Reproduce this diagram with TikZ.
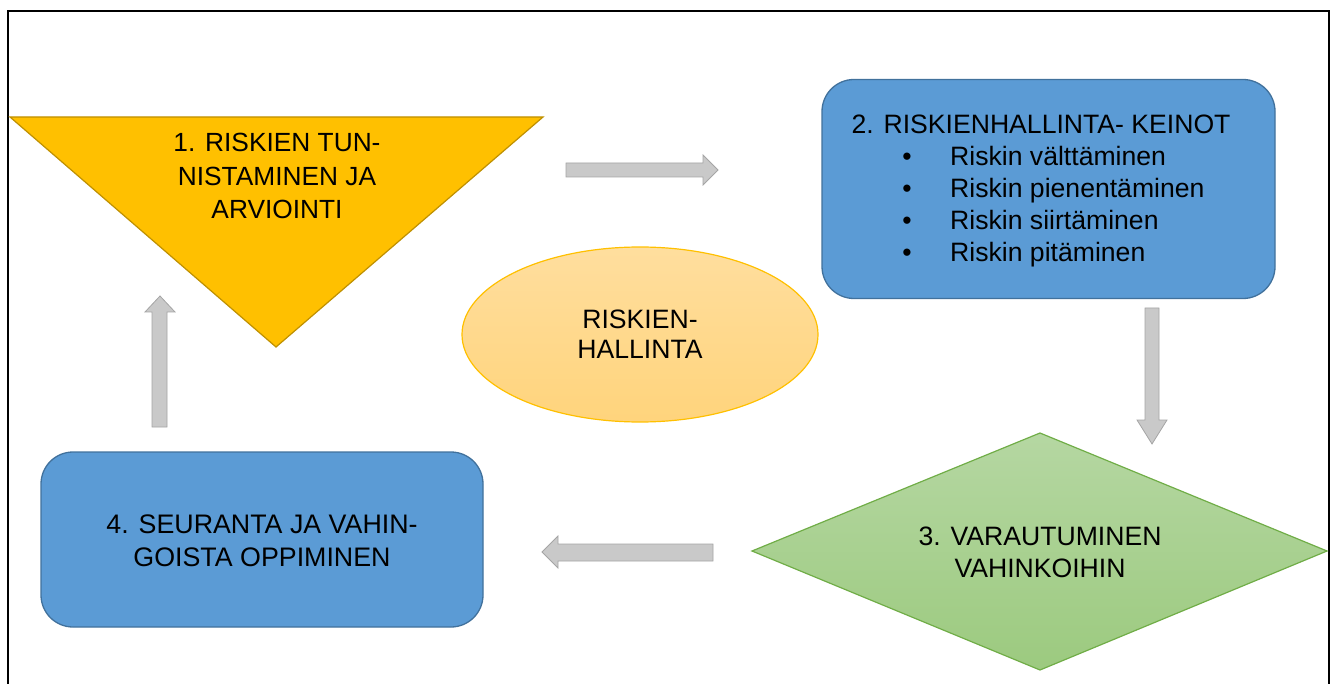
\documentclass[tikz,border=0pt]{standalone}
\usepackage{fontspec}
\setmainfont{Liberation Sans}
\usetikzlibrary{shapes.geometric}
\definecolor{gold}{HTML}{FFC000}
\definecolor{golddark}{HTML}{BF9000}
\definecolor{boxblue}{HTML}{5B9BD5}
\definecolor{boxblueline}{HTML}{41719C}
\definecolor{greentop}{HTML}{B5D7A2}
\definecolor{greenbot}{HTML}{9CCA7F}
\definecolor{greenline}{HTML}{70AD47}
\definecolor{ovaltop}{HTML}{FFDE9E}
\definecolor{ovalbot}{HTML}{FFD47C}
\definecolor{arrowfill}{HTML}{C9C9C9}
\definecolor{arrowline}{HTML}{A5A5A5}
\tikzset{
  label/.style={inner sep=0pt, font=\fontsize{26.6}{32}\selectfont, text=black},
  bluebox/.style={draw=boxblueline, fill=boxblue, line width=1.3pt, rounded corners=32pt, inner sep=0pt},
  blockarrow/.style={draw=arrowline, fill=arrowfill, line width=0.8pt, line join=miter},
  frame/.style={draw=black, line width=2pt},
}
\begin{document}
\begin{tikzpicture}[x=1pt,y=-1pt]
\useasboundingbox (0,0) rectangle (1335,684);

% outer frame (open at the bottom)
\draw[frame] (8,690) -- (8,11) -- (1329,11) -- (1329,690);

% step 1: inverted triangle
\coordinate (t1) at (10,117);
\coordinate (t2) at (543,117);
\coordinate (t3) at (276,347);
\draw[draw=golddark, fill=gold, line width=1.2pt, line join=miter] (t1) -- (t2) -- (t3) -- cycle;
\node[label, anchor=north, align=center, font=\fontsize{26.3}{33.5}\selectfont] (n1) at (277,133)
  {1. RISKIEN TUN-\\NISTAMINEN JA\\ARVIOINTI};

% step 2: rounded box with bullet list
\node[bluebox, minimum width=453pt, minimum height=219pt] (b2) at (1048.5,189) {};
\node[label, anchor=base] (b2t) at (1041,134) {2. RISKIENHALLINTA- KEINOT};
\foreach \txt [count=\i] in {Riskin välttäminen, Riskin pienentäminen, Riskin siirtäminen, Riskin pitäminen} {
  \node[label, anchor=base] (b2d\i) at (907,{134+32*\i}) {•};
  \node[label, anchor=base west] (b2i\i) at (950,{134+32*\i}) {\txt};
}

% step 3: diamond with vertical gradient
\coordinate (d1) at (1040,433);
\coordinate (d2) at (1327,551);
\coordinate (d3) at (1040,670);
\coordinate (d4) at (752,551);
\path[top color=greentop, bottom color=greenbot] (d1) -- (d2) -- (d3) -- (d4) -- cycle;
\draw[greenline, line width=1.2pt, line join=miter] (d1) -- (d2) -- (d3) -- (d4) -- cycle;
\node[label, anchor=north, align=center, font=\fontsize{26.6}{32}\selectfont] (n3) at (1040,527)
  {3. VARAUTUMINEN\\VAHINKOIHIN};

% step 4: rounded box
\node[bluebox, minimum width=442pt, minimum height=175pt] (b4) at (262,539.5) {};
\node[label, anchor=north, align=center, font=\fontsize{26.8}{33}\selectfont] (n4) at (262,515)
  {4. SEURANTA JA VAHIN-\\GOISTA OPPIMINEN};

% centre ellipse
\node[ellipse, draw=gold, line width=1.2pt, top color=ovaltop, bottom color=ovalbot,
      minimum width=356pt, minimum height=175pt, inner sep=0pt] (ov) at (640,334.5) {};
\node[label, anchor=north, align=center, font=\fontsize{26.6}{29.5}\selectfont] (n0) at (640,310)
  {RISKIEN-\\HALLINTA};

% block arrows between the steps
\draw[blockarrow] (566,163) -- (703,163) -- (703,155) -- (718,170) -- (703,185) -- (703,177) -- (566,177) -- cycle;
\draw[blockarrow] (1145,308) -- (1159,308) -- (1159,420) -- (1167,420) -- (1152,444) -- (1137,420) -- (1145,420) -- cycle;
\draw[blockarrow] (713,544) -- (713,561) -- (558,561) -- (558,568) -- (542,552) -- (558,536) -- (558,544) -- cycle;
\draw[blockarrow] (152,427) -- (152,312) -- (145,312) -- (160,296) -- (175,312) -- (167,312) -- (167,427) -- cycle;
\end{tikzpicture}
\end{document}
